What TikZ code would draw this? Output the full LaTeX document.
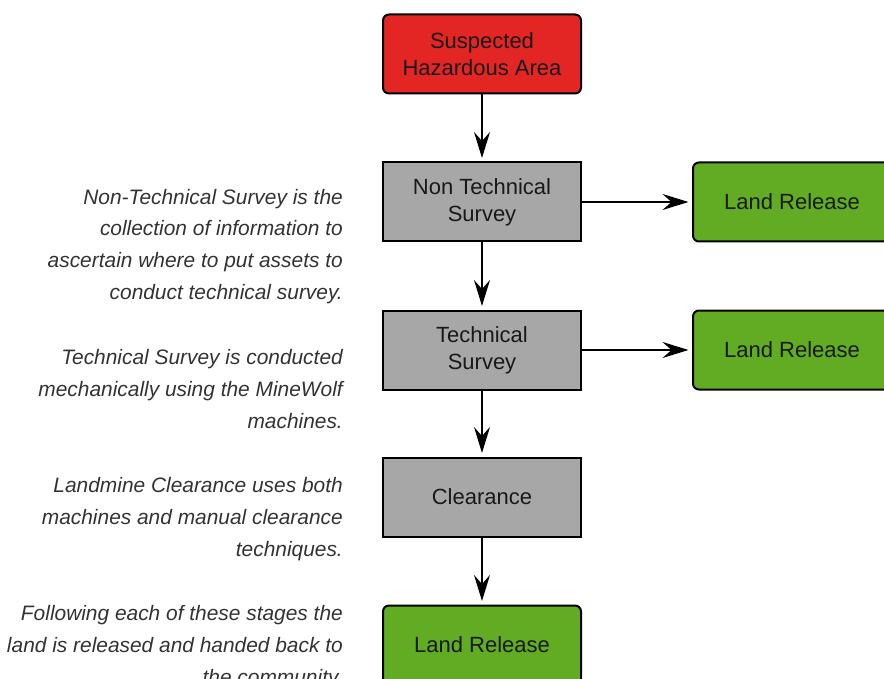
\documentclass[tikz,border=0pt]{standalone}
\usepackage{fontspec}
\setmainfont{Liberation Sans}
\usetikzlibrary{arrows.meta}
\definecolor{boxred}{HTML}{E32624}
\definecolor{boxgray}{HTML}{A6A7A6}
\definecolor{boxgreen}{HTML}{62AC23}
\definecolor{txtgray}{HTML}{333333}
\tikzset{
  stagebox/.style={draw=black, line width=2pt, minimum width=198pt, minimum height=79pt,
    align=center, inner sep=0pt, text=black!90, font=\fontsize{22}{27}\selectfont},
  redbox/.style={stagebox, fill=boxred, rounded corners=6pt},
  graybox/.style={stagebox, fill=boxgray},
  greenbox/.style={stagebox, fill=boxgreen, rounded corners=6pt},
  flow/.style={line width=2pt, -{Stealth[length=26pt, width=16pt, inset=9pt]}, shorten >=3.5pt},
  note/.style={anchor=base east, inner sep=0pt, text=txtgray, font=\fontsize{20.9}{32}\selectfont\itshape}
}
\begin{document}
\begin{tikzpicture}[x=1pt, y=-1pt]
\useasboundingbox (0,0) rectangle (884,679);
\node[redbox] (sha) at (482,54) {Suspected\\Hazardous Area};
\node[graybox] (nts) at (482,202) {Non Technical\\Survey};
\node[graybox] (ts) at (482,350) {Technical\\Survey};
\node[graybox] (cl) at (482,497) {Clearance};
\node[greenbox] (lr3) at (482,645) {Land Release};
\node[greenbox] (lr1) at (792,202) {Land Release};
\node[greenbox] (lr2) at (792,350) {Land Release};
\draw[flow] (sha) -- (nts);
\draw[flow] (nts) -- (ts);
\draw[flow] (ts) -- (cl);
\draw[flow] (cl) -- (lr3);
\draw[flow] (nts) -- (lr1);
\draw[flow] (ts) -- (lr2);
\foreach \n/\yy/\t in {
  a/205/Non-Technical Survey is the,
  b/236/collection of information to,
  c/268/ascertain where to put assets to,
  d/300/conduct technical survey.,
  e/364/Technical Survey is conducted,
  f/396/mechanically using the MineWolf,
  g/428/machines.,
  h/492/Landmine Clearance uses both,
  i/524/machines and manual clearance,
  j/556/techniques.,
  k/620/Following each of these stages the,
  l/652/land is released and handed back to,
  m/684/the community.}
  \node[note] (note\n) at (343,\yy) {\t};
\end{tikzpicture}
\end{document}
